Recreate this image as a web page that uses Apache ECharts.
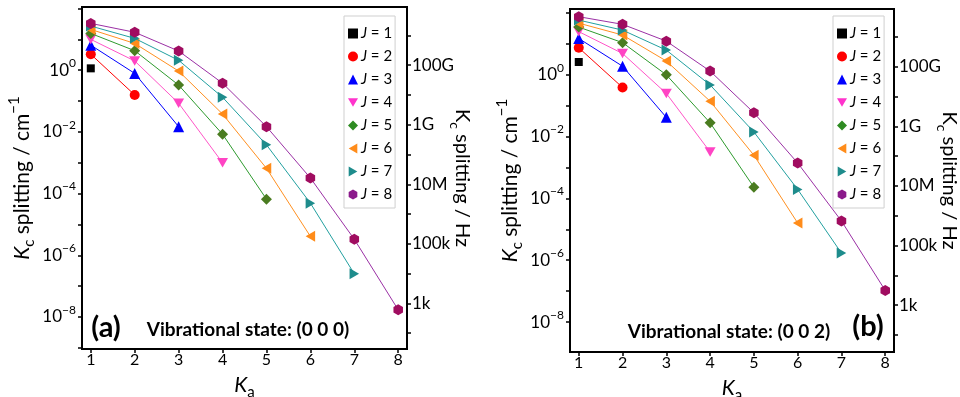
<!DOCTYPE html>
<html>
<head>
<meta charset="utf-8">
<script src="https://cdn.jsdelivr.net/npm/echarts@6/dist/echarts.min.js"></script>
<style>
html,body{margin:0;padding:0;background:#fff;}
#chart{width:960px;height:397px;}
</style>
</head>
<body>
<div id="chart"></div>
<script>
// ---------- data ----------
const kValues = [1, 2, 3, 4, 5, 6, 7, 8];
const jLabels = ['J = 1', 'J = 2', 'J = 3', 'J = 4', 'J = 5', 'J = 6', 'J = 7', 'J = 8'];

// Panel (a): vibrational state (0 0 0), Kc splitting in cm^-1 for Ka = 1..J
const a_J1 = [1.15];
const a_J2 = [3.3, 0.158];
const a_J3 = [6.5, 0.79, 0.0148];
const a_J4 = [10, 2.0, 0.085, 1.0e-3];
const a_J5 = [15.6, 4.3, 0.33, 8.4e-3, 6.6e-5];
const a_J6 = [21, 7.4, 0.94, 0.038, 6.6e-4, 4.1e-6];
const a_J7 = [27, 10.8, 2.1, 0.133, 3.8e-3, 4.9e-5, 2.5e-7];
const a_J8 = [33, 17, 4.2, 0.38, 0.0148, 3.2e-4, 3.3e-6, 1.7e-8];

// Panel (b): vibrational state (0 0 2)
const b_J1 = [2.6];
const b_J2 = [7.5, 0.39];
const b_J3 = [15, 1.9, 0.042];
const b_J4 = [25, 4.9, 0.25, 3.2e-3];
const b_J5 = [35, 11, 1.0, 0.028, 2.3e-4];
const b_J6 = [47, 19.4, 2.8, 0.14, 2.5e-3, 1.6e-5];
const b_J7 = [59, 28, 6.3, 0.47, 0.0141, 1.96e-4, 1.7e-6];
const b_J8 = [76, 43, 12.3, 1.32, 0.059, 1.4e-3, 1.86e-5, 1.05e-7];

// tick labels
const xTickValues = [1, 2, 3, 4, 5, 6, 7, 8];
const cmTickValues = [1e-9, 1e-8, 1e-7, 1e-6, 1e-5, 1e-4, 1e-3, 1e-2, 1e-1, 1, 10, 100];
const cmLabelValues = [1e-8, 1e-6, 1e-4, 1e-2, 1];
const hzTickValues = [1e2, 1e3, 1e4, 1e5, 1e6, 1e7, 1e8, 1e9, 1e10, 1e11, 1e12];
const hzLabelValues = [1e3, 1e5, 1e7, 1e9, 1e11];
const hzLabelTexts = ['1k', '100k', '10M', '1G', '100G'];

// ---------- style ----------
const F = 'Lato';
const lineColors = ['#000000', '#FF0000', '#0000FF', '#FF55C8', '#2E9B2E', '#FF9020', '#22A0A0', '#9B30A5'];
const markerColors = ['#000000', '#FF0000', '#0000FF', '#FF44C4', '#4A7C20', '#FF8C1A', '#1E8C8C', '#A00C60'];
const legendColors = ['#000000', '#FF0000', '#0000FF', '#FF33CC', '#2E8B22', '#FF8C1A', '#1E8C8C', '#8B1A8B'];
const symbols = [
  'rect',
  'circle',
  'triangle',
  'path://M0,0 L10,0 L5,8.66 Z',
  'diamond',
  'path://M0,5 L8.66,0 L8.66,10 Z',
  'path://M0,0 L8.66,5 L0,10 Z',
  'path://M5,0 L9.33,2.5 L9.33,7.5 L5,10 L0.67,7.5 L0.67,2.5 Z'
];
const symbolSizes = [8, 10, 11, 11, 11, 11, 11, 11];

const panelAData = [a_J1, a_J2, a_J3, a_J4, a_J5, a_J6, a_J7, a_J8];
const panelBData = [b_J1, b_J2, b_J3, b_J4, b_J5, b_J6, b_J7, b_J8];

function near(v, list) {
  for (let i = 0; i < list.length; i++) {
    if (Math.abs(Math.log10(v) - Math.log10(list[i])) < 1e-6) return i;
  }
  return -1;
}
function cmFormatter(v) {
  if (near(v, cmLabelValues) < 0) return '';
  const e = Math.round(Math.log10(v));
  return '{b|10}{s|' + (e < 0 ? '\u2212' + (-e) : e) + '}';
}
function hzFormatter(v) {
  const i = near(v, hzLabelValues);
  return i < 0 ? '' : hzLabelTexts[i];
}
const cmRich = {
  b: {fontFamily: F, fontSize: 17, lineHeight: 26, color: '#000'},
  s: {fontFamily: F, fontSize: 12, lineHeight: 13, verticalAlign: 'top', color: '#000'}
};
const nameRichL = {
  k: {fontFamily: F, fontSize: 21, fontStyle: 'italic', lineHeight: 30, color: '#000'},
  t: {fontFamily: F, fontSize: 21, lineHeight: 30, color: '#000'},
  sub: {fontFamily: F, fontSize: 15, lineHeight: 15, verticalAlign: 'bottom', color: '#000'},
  sup: {fontFamily: F, fontSize: 15, lineHeight: 15, verticalAlign: 'top', color: '#000'}
};
const nameRichR = {
  k: {fontFamily: F, fontSize: 20, lineHeight: 28, color: '#000'},
  t: {fontFamily: F, fontSize: 20, lineHeight: 28, color: '#000'},
  sub: {fontFamily: F, fontSize: 14, lineHeight: 14, verticalAlign: 'bottom', color: '#000'}
};

const ranges = [
  {cm: [-9.04, 2.05], hz: [1.47, 12.95]},
  {cm: [-8.97, 2.13], hz: [1.43, 12.94]}
];

const axisLineStyle = {show: true, onZero: false, lineStyle: {color: '#000', width: 2}};
const tickStyle = {color: '#000', width: 1.5};

const xAxes = [0, 1].map(g => ({
  type: 'value', gridIndex: g, min: 0.8, max: 8.2,
  axisLine: axisLineStyle,
  axisTick: {show: true, length: 4, lineStyle: tickStyle, customValues: xTickValues},
  axisLabel: {customValues: xTickValues, margin: 3, fontFamily: F, fontSize: 16, color: '#000',
    formatter: v => (Math.abs(v - Math.round(v)) < 1e-9 ? String(Math.round(v)) : '')},
  splitLine: {show: false},
  name: '{k|K}{sub|a}', nameLocation: 'middle', nameGap: 21, nameMoveOverlap: false,
  nameTextStyle: {rich: nameRichL}
}));

const yAxes = [];
[0, 1].forEach(g => {
  yAxes.push({
    type: 'log', logBase: 10, gridIndex: g, position: 'left',
    min: Math.pow(10, ranges[g].cm[0]), max: Math.pow(10, ranges[g].cm[1]),
    axisLine: axisLineStyle,
    axisTick: {show: true, length: 4, lineStyle: tickStyle, customValues: cmTickValues},
    axisLabel: {customValues: cmLabelValues, formatter: cmFormatter, rich: cmRich, margin: 6},
    minorTick: {show: false}, splitLine: {show: false},
    name: '{k|K}{sub|c}{t| splitting / cm}{sup|\u22121}', nameLocation: 'middle', nameGap: 45, nameRotate: 90,
    nameMoveOverlap: false,
    nameTextStyle: {rich: nameRichL}
  });
  yAxes.push({
    type: 'log', logBase: 10, gridIndex: g, position: 'right',
    min: Math.pow(10, ranges[g].hz[0]), max: Math.pow(10, ranges[g].hz[1]),
    axisLine: axisLineStyle,
    axisTick: {show: true, length: 4, lineStyle: tickStyle, customValues: hzTickValues},
    axisLabel: {customValues: hzLabelValues, formatter: hzFormatter, margin: 5, fontFamily: F, fontSize: 17, color: '#000'},
    minorTick: {show: false}, splitLine: {show: false},
    name: '{k|K}{sub|c}{t| splitting / Hz}', nameLocation: 'middle', nameGap: 41, nameRotate: -90,
    nameMoveOverlap: false,
    nameTextStyle: {rich: nameRichR}
  });
});

const series = [];
[panelAData, panelBData].forEach((panel, g) => {
  panel.forEach((vals, j) => {
    series.push({
      type: 'line', name: jLabels[j], xAxisIndex: g, yAxisIndex: g * 2,
      data: vals.map((v, k) => [kValues[k], v]),
      symbol: symbols[j], symbolSize: symbolSizes[j], symbolKeepAspect: true,
      showAllSymbol: true,
      itemStyle: {color: markerColors[j]},
      lineStyle: {color: lineColors[j], width: 1},
      emphasis: {disabled: true},
      z: 2 + j
    });
  });
});

function legendFor(left) {
  return {
    orient: 'vertical', left: left, top: 16,
    padding: [10, 3, 6, 4], itemGap: 8, itemWidth: 10, itemHeight: 10,
    borderColor: '#cfcfcf', borderWidth: 1, selectedMode: false,
    data: jLabels.map((n, j) => ({name: n, icon: symbols[j], itemStyle: {color: legendColors[j]}})),
    formatter: n => '{i|J}' + n.slice(1),
    textStyle: {fontFamily: F, fontSize: 15, color: '#000', padding: [0, 0, 0, -2],
      rich: {i: {fontFamily: F, fontSize: 15, fontStyle: 'italic'}}}
  };
}

function label(x, y, text, size) {
  return {type: 'text', x: x, y: y, silent: true,
    style: {text: text, fontFamily: F, fontSize: size, fontWeight: 'bold', fill: '#000', align: 'center', verticalAlign: 'middle'}};
}

const option = {
  animation: false,
  backgroundColor: '#fff',
  grid: [
    {left: 82, top: 7, width: 325, height: 342, outerBoundsMode: 'none', containLabel: false,
      show: true, borderColor: '#000', borderWidth: 2, backgroundColor: 'transparent'},
    {left: 570, top: 9, width: 324, height: 343, outerBoundsMode: 'none', containLabel: false,
      show: true, borderColor: '#000', borderWidth: 2, backgroundColor: 'transparent'}
  ],
  xAxis: xAxes,
  yAxis: yAxes,
  legend: [legendFor(344), legendFor(833)],
  series: series,
  graphic: [
    label(106, 328, '(a)', 29),
    label(248, 330, 'Vibrational state: (0 0 0)', 19),
    label(729, 332, 'Vibrational state: (0 0 2)', 19),
    label(868, 327, '(b)', 29)
  ]
};

const chart = echarts.init(document.getElementById('chart'), null, {renderer: 'canvas'});
chart.setOption(option);
</script>
</body>
</html>
